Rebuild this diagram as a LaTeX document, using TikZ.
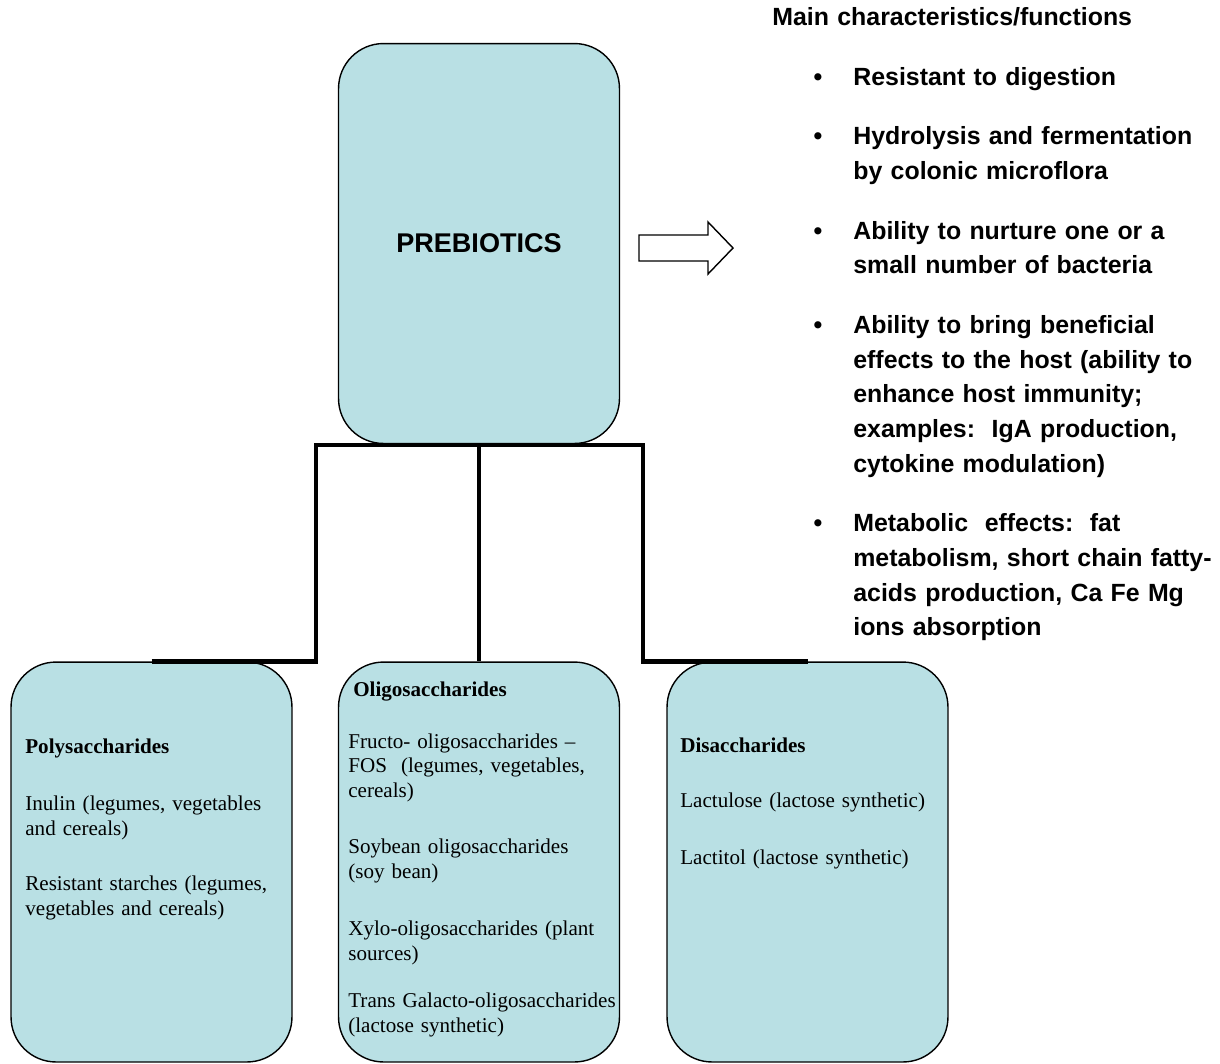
\documentclass[tikz,border=0pt]{standalone}
\usepackage{fontspec}
\setmainfont{Liberation Serif}
\setsansfont{Liberation Sans}
\usepackage{tikz}
\definecolor{box_blue}{RGB}{185,224,228}
\newcommand{\featbullet}{\leavevmode\llap{\textbullet\hspace{17.6pt}}}

\begin{document}
\begin{tikzpicture}[x=0.02cm,y=-0.02cm]
    \tikzstyle{catbox}=[draw=black, line width=0.8pt, fill=box_blue, rounded corners=0.9cm, minimum width=5.62cm, minimum height=8cm, inner sep=0pt]
    \tikzstyle{boxtext}=[anchor=base west, inner sep=0pt, align=left, text width=6cm, font=\fontsize{12}{14.2}\selectfont]
    \tikzstyle{feat}=[anchor=base west, inner sep=0pt, align=left, text width=7.5cm, font=\sffamily\bfseries\fontsize{14.17}{19.75}\selectfont]
    \tikzstyle{link}=[line width=2.8pt]
    \tikzstyle{blockarrow}=[draw=black, fill=white, line width=0.8pt]

    \useasboundingbox (0,0) rectangle (1220,1063);

    \node[catbox, font=\sffamily\bfseries\fontsize{15.4}{18}\selectfont] (prebio) at (479,243.5) {PREBIOTICS};
    \node[catbox] (poly)  at (151.5,862) {};
    \node[catbox] (oligo) at (479,862)   {};
    \node[catbox] (disac) at (807.5,862) {};

    % tree under the main box
    \coordinate (barL) at (316,445);
    \coordinate (barR) at (643,445);
    \draw[link] (poly.north) -| (barL) -- (barR) |- (disac.north);
    \draw[link] (prebio.south) -- (oligo.north);

    \draw[blockarrow] (639,235) -- (708,235) -- (708,222) -- (733,248)
        -- (708,274) -- (708,261) -- (639,261) -- cycle;

    \node[boxtext] (polytxt) at (25,753) {\textbf{Polysaccharides}\\[18.8pt]
        Inulin (legumes, vegetables\\
        and cereals)\\[17pt]
        Resistant starches (legumes,\\
        vegetables and cereals)};
    \node[boxtext] (oligotxt) at (348,696) {\hspace*{2.8pt}\textbf{Oligosaccharides}\\[15.4pt]
        Fructo- oligosaccharides --\\
        FOS\ \ (legumes, vegetables,\\
        cereals)\\[17.6pt]
        Soybean oligosaccharides\\
        (soy bean)\\[18.2pt]
        Xylo-oligosaccharides (plant\\
        sources)\\[12.5pt]
        Trans Galacto-oligosaccharides\\
        (lactose synthetic)};
    \node[boxtext] (disactxt) at (680,752) {\textbf{Disaccharides}\\[17.6pt]
        Lactulose (lactose synthetic)\\[18.2pt]
        Lactitol (lactose synthetic)};

    \node[feat] (feathead) at (772,25) {Main characteristics/functions};
    \node[feat] (featlist) at (853,85) {\featbullet Resistant to digestion\\[14.2pt]
        \featbullet Hydrolysis and fermentation\\
        by colonic microflora\\[14.2pt]
        \featbullet Ability to nurture one or a\\
        small number of bacteria\\[14.2pt]
        \featbullet Ability to bring beneficial\\
        effects to the host (ability to\\
        enhance host immunity;\\
        examples:\ \ IgA production,\\
        cytokine modulation)\\[14.2pt]
        \featbullet Metabolic\ \ effects:\ \ fat\\
        metabolism, short chain fatty-\\
        acids production, Ca Fe Mg\\
        ions absorption};
\end{tikzpicture}
\end{document}
